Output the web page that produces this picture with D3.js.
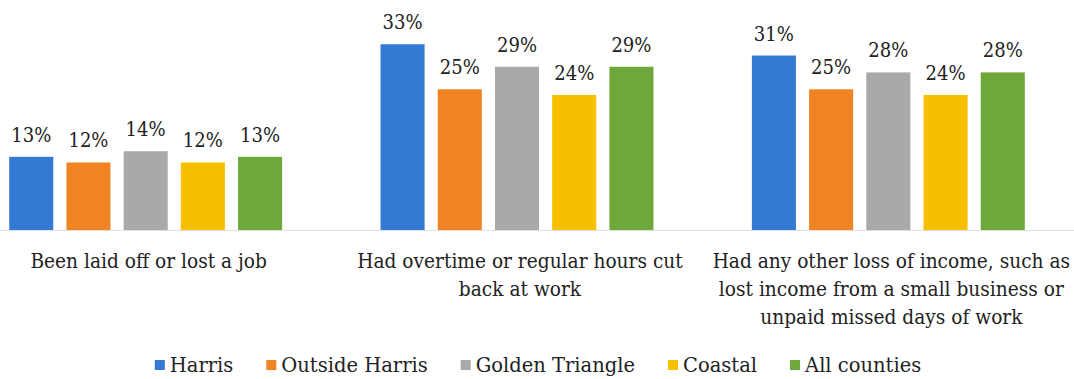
<!DOCTYPE html>
<html>
<head>
<meta charset="utf-8">
<script src="https://cdn.jsdelivr.net/npm/d3@7/dist/d3.min.js"></script>
<style>
  html, body { margin: 0; padding: 0; background: #ffffff; }
  svg { display: block; }
</style>
</head>
<body>
<svg id="chart" width="1074" height="379"></svg>
<script>
// Survey categories (line breaks mark where each label wraps)
const categories = [
  "Been laid off or lost a job",
  "Had overtime or regular hours cut\nback at work",
  "Had any other loss of income, such as\nlost income from a small business or\nunpaid missed days of work"
];
const seriesNames = ["Harris", "Outside Harris", "Golden Triangle", "Coastal", "All counties"];
const seriesColors = ["#3479d3", "#f08423", "#a8a9a8", "#f6c000", "#6ea83a"];

// Percent of respondents, one array per region (in category order)
const harris        = [13, 33, 31];
const outsideHarris = [12, 25, 25];
const goldenTri     = [14, 29, 28];
const coastal       = [12, 24, 24];
const allCounties   = [13, 29, 28];
const seriesValues = [harris, outsideHarris, goldenTri, coastal, allCounties];

const FONT = "'DejaVu Serif', 'Liberation Serif', 'Times New Roman', Times, serif";
const TEXT_COLOR = "#222222";

const svg = d3.select("#chart");
const W = 1074, baseY = 230;

const x0 = d3.scaleBand().domain(categories).range([-40, W]).padding(0);
const x1 = d3.scaleBand().domain(seriesNames).range([0, x0.bandwidth()])
  .paddingInner(0.23).paddingOuter(0.86);
const y = d3.scaleLinear().domain([0, 35]).range([baseY, 33]);
const color = d3.scaleOrdinal().domain(seriesNames).range(seriesColors);

// category axis baseline
svg.append("line")
  .attr("x1", 0).attr("x2", W)
  .attr("y1", baseY + 0.5).attr("y2", baseY + 0.5)
  .attr("stroke", "#e2e2e2").attr("stroke-width", 1);

const rows = [];
categories.forEach((c, ci) => {
  seriesNames.forEach((s, si) => {
    rows.push({ cat: c, series: s, value: seriesValues[si][ci] });
  });
});

const bars = svg.append("g");
bars.selectAll("rect").data(rows).join("rect")
  .attr("x", d => x0(d.cat) + x1(d.series))
  .attr("y", d => y(d.value))
  .attr("width", x1.bandwidth())
  .attr("height", d => baseY - y(d.value))
  .attr("fill", d => color(d.series));

// value labels, slightly condensed serif
bars.selectAll("g.val").data(rows).join("g")
  .attr("class", "val")
  .attr("transform", d =>
    `translate(${x0(d.cat) + x1(d.series) + x1.bandwidth() / 2},${y(d.value) - 15}) scale(0.86,1)`)
  .append("text")
  .attr("text-anchor", "middle")
  .style("font-family", FONT)
  .style("font-size", "21px")
  .attr("fill", TEXT_COLOR)
  .text(d => d.value + "%");

// category labels, condensed and wrapped
const catLabels = svg.append("g");
categories.forEach(c => {
  const g = catLabels.append("g")
    .attr("transform", `translate(${x0(c) + x0.bandwidth() / 2 + 3},268) scale(0.93,1)`);
  const t = g.append("text")
    .attr("text-anchor", "middle")
    .style("font-family", FONT)
    .style("font-size", "20px")
    .attr("fill", TEXT_COLOR);
  c.split("\n").forEach((line, i) => {
    t.append("tspan")
      .attr("x", 0)
      .attr("y", i * 28)
      .text(line);
  });
});

// legend
const legend = svg.append("g");
let cx = 0;
seriesNames.forEach(s => {
  const item = legend.append("g").attr("transform", `translate(${cx},0)`);
  item.append("rect").attr("x", 0).attr("y", 360).attr("width", 10).attr("height", 10)
    .attr("fill", color(s));
  const t = item.append("text").attr("x", 15).attr("y", 372)
    .style("font-family", FONT)
    .style("font-size", "19.5px")
    .attr("fill", TEXT_COLOR)
    .text(s);
  cx += 15 + t.node().getComputedTextLength() + 33;
});
const legendW = cx - 33;
legend.attr("transform", `translate(${538 - legendW / 2},0)`);
</script>
</body>
</html>
